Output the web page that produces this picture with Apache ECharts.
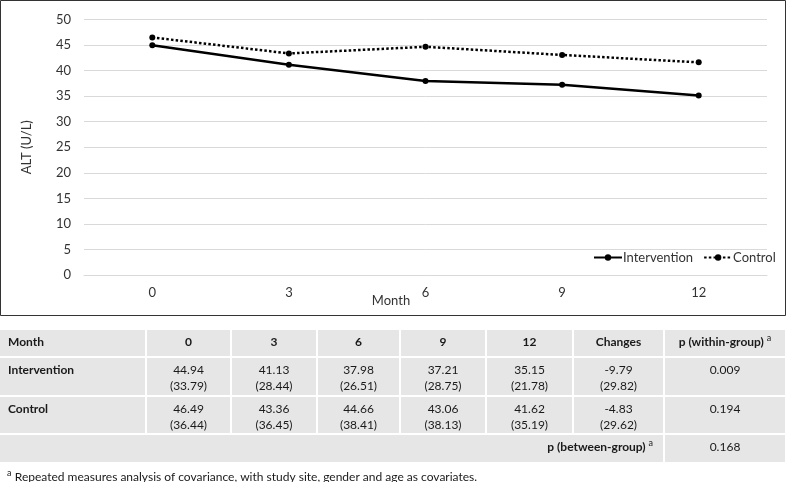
<!DOCTYPE html>
<html>
<head>
<meta charset="utf-8">
<script src="https://cdn.jsdelivr.net/npm/echarts@6/dist/echarts.min.js"></script>
<style>html,body{margin:0;padding:0;background:#fff}#c{width:787px;height:482px}</style>
</head>
<body>
<div id="c"></div>
<script>
// ---- data ----
const months = ['0', '3', '6', '9', '12'];
const interventionMean = [44.94, 41.13, 37.98, 37.21, 35.15];
const controlMean = [46.49, 43.36, 44.66, 43.06, 41.62];
const interventionSD = [33.79, 28.44, 26.51, 28.75, 21.78];
const controlSD = [36.44, 36.45, 38.41, 38.13, 35.19];
const changesMean = [-9.79, -4.83];
const changesSD = [29.82, 29.62];
const pWithin = ['0.009', '0.194'];
const pBetween = '0.168';
const groupNames = ['Intervention', 'Control'];
const yTicksMin = 0, yTicksMax = 50, yTicksStep = 5;
const footnote = 'Repeated measures analysis of covariance, with study site, gender and age as covariates.';

// ---- layout (styles) ----
const FONT = 'Lato, "Noto Sans", sans-serif';
const colEdges = [0, 147, 232, 318, 401, 487, 574, 665, 787];
const rowEdges = [[330, 356], [358, 395], [397, 433], [435, 462]];
const GAP = 2;
const CELL = '#e7e6e6';
const TXT = '#1a1a1a';

const chart = echarts.init(document.getElementById('c'));
const g = [];
// chart border
g.push({type: 'rect', shape: {x: 0.5, y: 0.5, width: 785, height: 315}, style: {fill: 'none', stroke: '#333', lineWidth: 1}, z: 10});
// x axis title
g.push({type: 'text', x: 391, y: 301, style: {text: 'Month', font: '13px ' + FONT, fill: '#333', align: 'center', verticalAlign: 'middle'}});

function cellRect(x0, x1, y0, y1) {
  g.push({type: 'rect', shape: {x: x0, y: y0, width: x1 - x0 - GAP, height: y1 - y0}, style: {fill: CELL}});
}
function txt(x, y, s, opt) {
  g.push({type: 'text', x: x, y: y, style: Object.assign({text: s, font: '12px ' + FONT, fill: TXT, align: 'center', verticalAlign: 'top', lineHeight: 16}, opt || {})});
}
function centerOf(ci) { return (colEdges[ci] + colEdges[ci + 1] - GAP) / 2; }
function supText(x, y, main, bold, align) {
  g.push({type: 'text', x: x, y: y, style: {
    text: '{b|' + main + ' }{sup|a}', align: align, verticalAlign: 'top',
    rich: {
      b: {font: (bold ? 'bold ' : '') + '12px ' + FONT, fill: TXT, lineHeight: 16},
      sup: {fontSize: 9, fontFamily: FONT, fill: TXT, lineHeight: 16, verticalAlign: 'top', padding: [0, 0, 4, 0]}
    }}});
}

for (let r = 0; r < 3; r++) {
  for (let c = 0; c < colEdges.length - 1; c++) {
    cellRect(colEdges[c], colEdges[c + 1], rowEdges[r][0], rowEdges[r][1]);
  }
}
cellRect(colEdges[0], colEdges[7], rowEdges[3][0], rowEdges[3][1]);
cellRect(colEdges[7], colEdges[8], rowEdges[3][0], rowEdges[3][1]);

// header
const hy = 334;
txt(8, hy, 'Month', {align: 'left', font: 'bold 12px ' + FONT});
months.forEach((m, i) => txt(centerOf(i + 1), hy, m, {font: 'bold 12px ' + FONT}));
txt(centerOf(6), hy, 'Changes', {font: 'bold 12px ' + FONT});
supText(centerOf(7), hy, 'p (within-group)', true, 'center');

// data rows
const means = [interventionMean, controlMean];
const sds = [interventionSD, controlSD];
for (let r = 0; r < 2; r++) {
  const y = rowEdges[r + 1][0] + 4;
  txt(8, y, groupNames[r], {align: 'left', font: 'bold 12px ' + FONT});
  for (let i = 0; i < months.length; i++) {
    txt(centerOf(i + 1), y, means[r][i].toFixed(2) + '\n(' + sds[r][i].toFixed(2) + ')');
  }
  txt(centerOf(6), y, changesMean[r].toFixed(2) + '\n(' + changesSD[r].toFixed(2) + ')');
  txt(centerOf(7), y, pWithin[r]);
}
// between-group row
const by = rowEdges[3][0] + 4;
supText(colEdges[7] - 12, by, 'p (between-group)', true, 'right');
txt(centerOf(7), by, pBetween);
// footnote
g.push({type: 'text', x: 7, y: 469, style: {text: '{sup|a} {n|' + footnote + '}', align: 'left', verticalAlign: 'top',
  rich: {n: {font: '12px ' + FONT, fill: TXT, lineHeight: 16}, sup: {fontSize: 9, fontFamily: FONT, fill: TXT, lineHeight: 16, verticalAlign: 'top', padding: [0, 0, 4, 0]}}}});

const option = {
  backgroundColor: '#fff',
  animation: false,
  grid: {left: 84, right: 20, top: 19.5, bottom: 207, containLabel: false},
  legend: {
    left: 593, top: 251, width: 192, orient: 'horizontal', itemWidth: 28, itemHeight: 8, itemGap: 10,
    padding: 0,
    textStyle: {fontFamily: FONT, fontSize: 13, color: '#333', padding: [0, 0, 0, -4]},
    data: groupNames
  },
  xAxis: {
    type: 'category', data: months, boundaryGap: true,
    axisLine: {show: true, lineStyle: {color: '#d9d9d9', width: 1}},
    axisTick: {show: false},
    axisLabel: {fontFamily: FONT, fontSize: 13, color: '#333', margin: 11}
  },
  yAxis: {
    type: 'value', min: yTicksMin, max: yTicksMax, interval: yTicksStep,
    name: 'ALT (U/L)', nameLocation: 'middle', nameGap: 51, nameRotate: 90,
    nameTextStyle: {fontFamily: FONT, fontSize: 13, color: '#333'},
    axisLine: {show: false}, axisTick: {show: false},
    axisLabel: {fontFamily: FONT, fontSize: 13, color: '#333', margin: 13},
    splitLine: {lineStyle: {color: '#d9d9d9', width: 1}}
  },
  series: [
    {name: groupNames[0], type: 'line', data: interventionMean, symbol: 'circle', symbolSize: 6,
      itemStyle: {color: '#000'}, lineStyle: {color: '#000', width: 2.5}, z: 3},
    {name: groupNames[1], type: 'line', data: controlMean, symbol: 'circle', symbolSize: 6,
      itemStyle: {color: '#000'}, lineStyle: {color: '#000', width: 2.5, type: [2.5, 2.2]}, z: 3}
  ],
  graphic: g
};
chart.setOption(option);
</script>
</body>
</html>
